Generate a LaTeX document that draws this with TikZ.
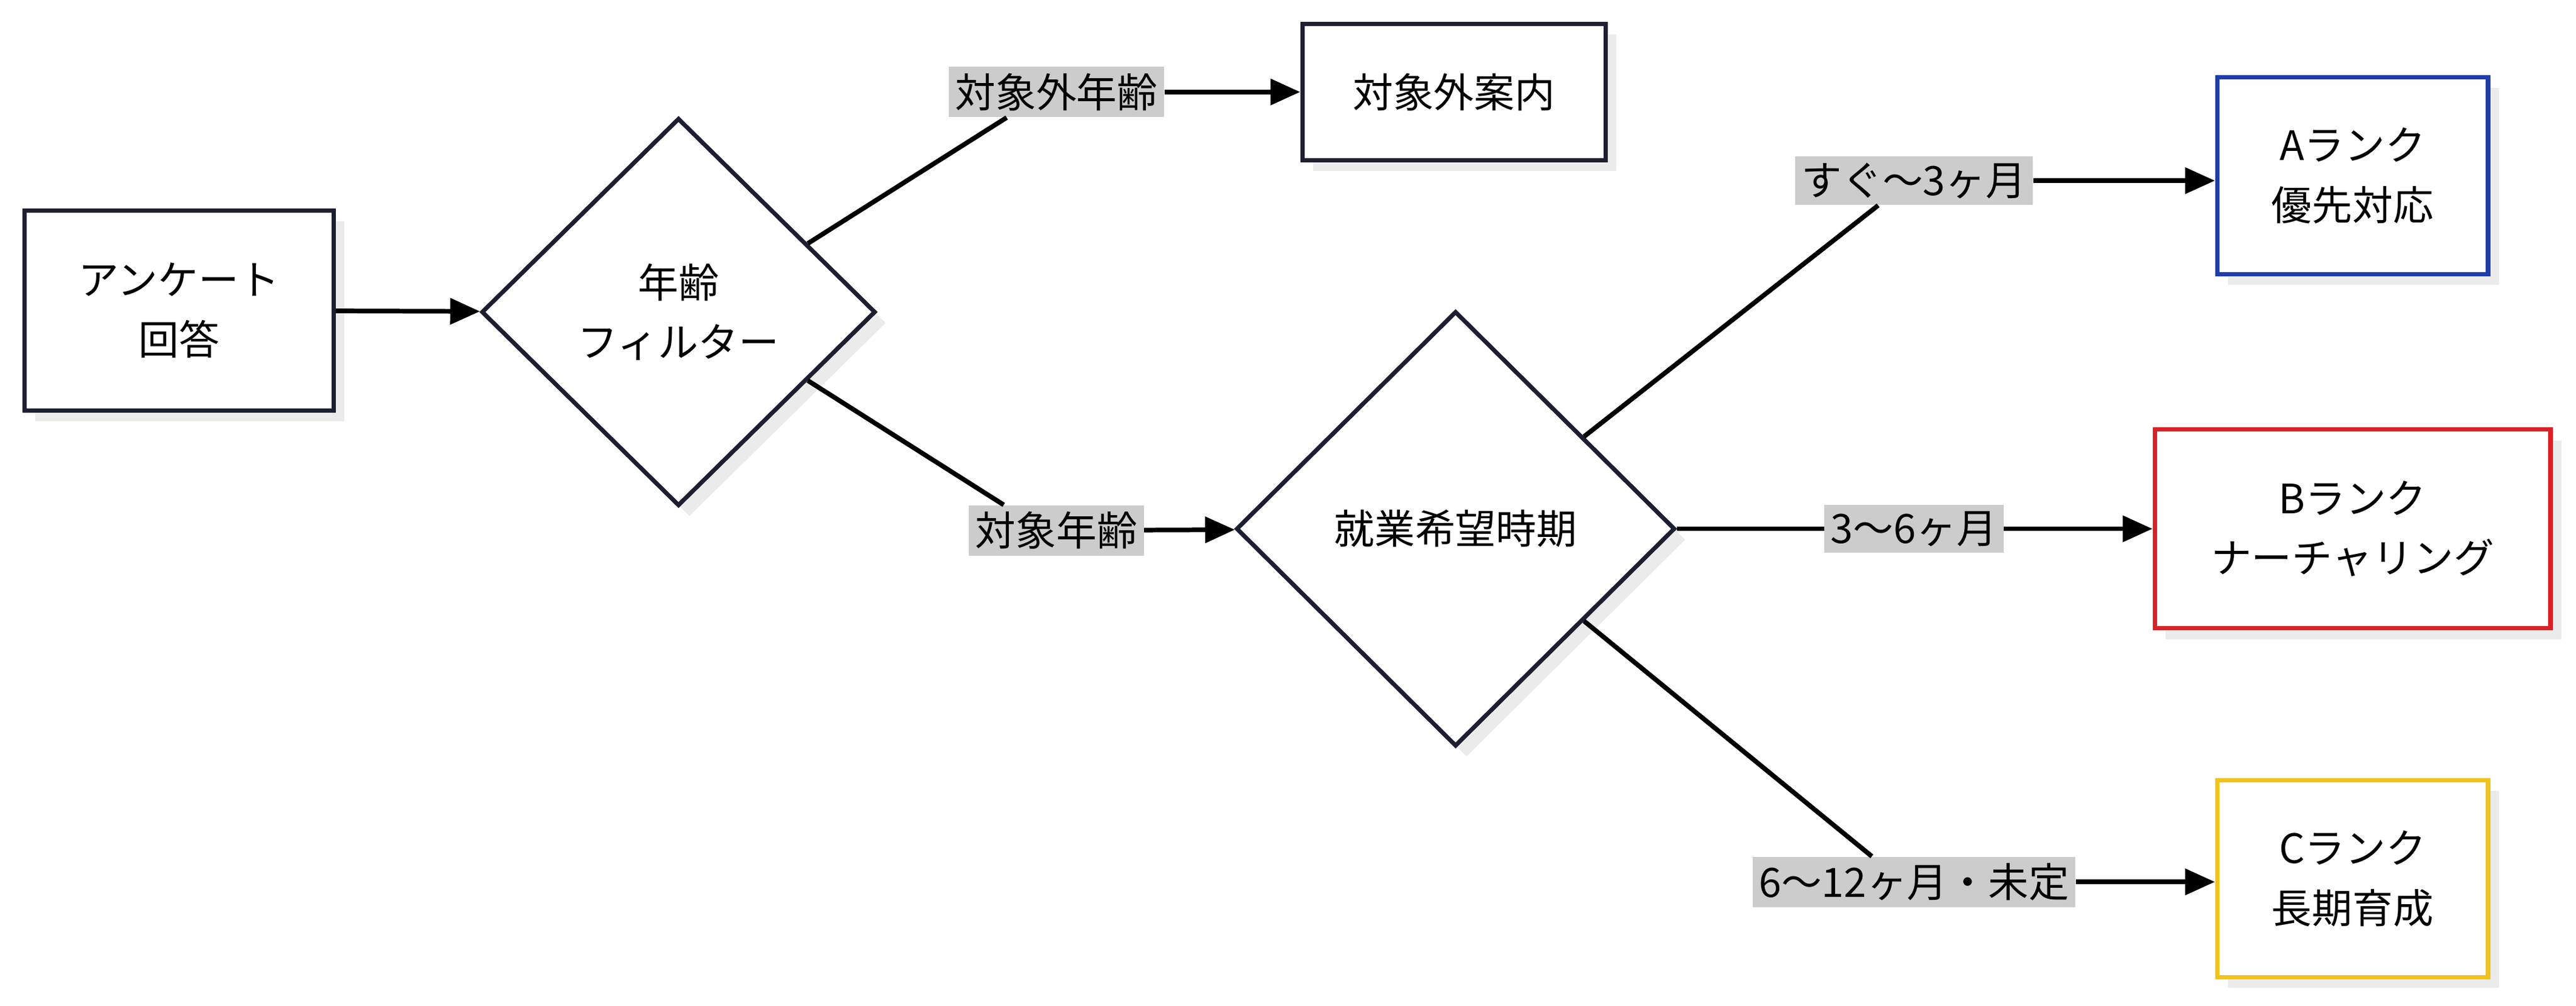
\documentclass[tikz,border=0pt]{standalone}
\usepackage{fontspec}
\setmainfont{Noto Sans CJK JP}
\usetikzlibrary{positioning, calc, arrows.meta, shapes.geometric, shadows}
\definecolor{ink}{RGB}{30,30,50}
\definecolor{rankA}{RGB}{30,60,170}
\definecolor{rankB}{RGB}{215,35,40}
\definecolor{rankC}{RGB}{240,195,30}
\tikzset{
  box/.style={draw=ink, line width=2pt, fill=white, align=center, inner sep=0pt,
    drop shadow={shadow xshift=0.18cm, shadow yshift=-0.18cm, fill=black!8, opacity=1}},
  dec/.style={diamond, draw=ink, line width=2pt, fill=white, align=center, inner sep=0pt,
    drop shadow={shadow xshift=0.18cm, shadow yshift=-0.18cm, fill=black!8, opacity=1}},
  lbl/.style={fill=black!20, inner sep=3pt},
  link/.style={line width=2.2pt, black},
  arr/.style={link, -{Triangle[length=14pt,width=12pt]}}
}
\begin{document}
\begin{tikzpicture}[x=0.0271cm, y=-0.0271cm, font=\fontsize{19}{28}\selectfont]
\useasboundingbox (0,0) rectangle (1568,612.5);

% boxes
\node[box, minimum width=5.1cm, minimum height=3.3cm] (ans) at (109,189) {アンケート\\回答};
\node[box, minimum width=5.0cm, minimum height=2.25cm] (out) at (885,56) {対象外案内};
\node[box, draw=rankA, minimum width=4.47cm, minimum height=3.25cm] (ra) at (1432,107) {Aランク\\優先対応};
\node[box, draw=rankB, minimum width=6.53cm, minimum height=3.28cm] (rb) at (1432,322) {Bランク\\ナーチャリング};
\node[box, draw=rankC, minimum width=4.47cm, minimum height=3.25cm] (rc) at (1432,535) {Cランク\\長期育成};

% decisions
\node[dec, minimum width=6.5cm, minimum height=6.4cm] (age) at (413,190) {年齢\\フィルター};
\node[dec, minimum width=7.24cm, minimum height=7.18cm] (when) at (886,322) {就業希望時期};

% labels
\node[lbl] (lout) at (643,56) {対象外年齢};
\node[lbl] (lin) at (643,323) {対象年齢};
\node[lbl] (la) at (1165,110) {すぐ〜3ヶ月};
\node[lbl] (lb) at (1165,322) {3〜6ヶ月};
\node[lbl] (lc) at (1165,537) {6〜12ヶ月・未定};

% connectors
\draw[arr] (ans) -- (age);
\draw[link] ($(age.north)!0.65!(age.east)$) -- ($(lout.south west)!0.27!(lout.south east)$);
\draw[arr] (lout) -- (out);
\draw[link] ($(age.south)!0.65!(age.east)$) -- ($(lin.north west)!0.2!(lin.north east)$);
\draw[arr] (lin) -- (when);
\draw[link] ($(when.north)!0.58!(when.east)$) -- ($(la.south west)!0.35!(la.south east)$);
\draw[arr] (la) -- (ra.west |- la);
\draw[link] (when) -- (lb);
\draw[arr] (lb) -- (rb);
\draw[link] ($(when.south)!0.58!(when.east)$) -- ($(lc.north west)!0.37!(lc.north east)$);
\draw[arr] (lc) -- (rc.west |- lc);
\end{tikzpicture}
\end{document}
